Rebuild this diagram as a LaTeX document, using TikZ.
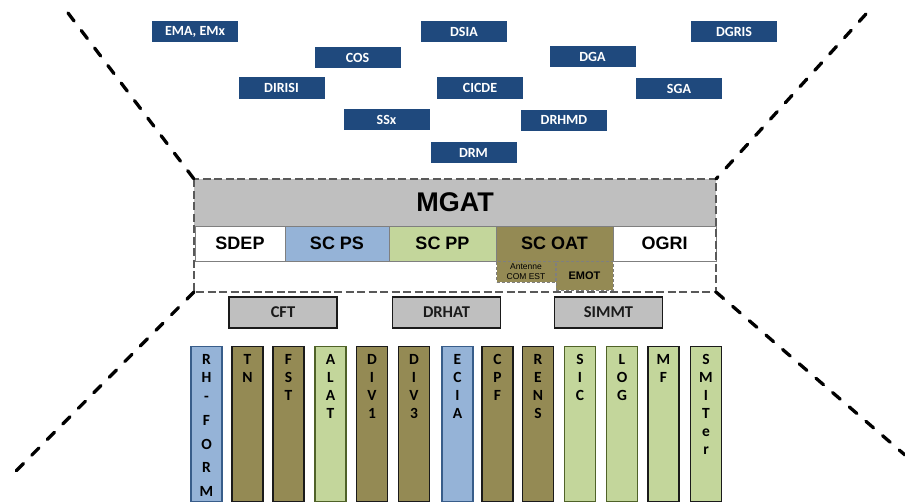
\documentclass[tikz,border=0pt]{standalone}
\usepackage{fontspec}
\setmainfont{Carlito}
\newfontfamily\arialf{Liberation Sans}
\definecolor{navy}{HTML}{1F497D}
\definecolor{lblue}{HTML}{95B3D7}
\definecolor{bblue}{HTML}{385D8A}
\definecolor{olivef}{HTML}{948A54}
\definecolor{lgreen}{HTML}{C3D69B}
\definecolor{dgreen}{HTML}{4F6228}
\definecolor{mgrey}{HTML}{BFBFBF}
\definecolor{frameg}{HTML}{595959}
\definecolor{cellb}{HTML}{7F7F7F}
\definecolor{dk}{HTML}{1A1A1A}
\begin{document}
\begin{tikzpicture}[x=1pt,y=-1pt,
  topbox/.style={fill=navy,text=white,font=\bfseries\fontsize{14}{14}\selectfont,
    minimum width=86pt,minimum height=21pt,inner sep=0pt},
  cell/.style={draw=cellb,line width=1pt,minimum height=35pt,inner sep=0pt,
    font=\arialf\bfseries\fontsize{18}{18}\selectfont},
  subcell/.style={draw=cellb,densely dashed,line width=0.8pt,fill=olivef,inner sep=0pt},
  midbox/.style={fill=mgrey,draw=dk,line width=1.5pt,minimum width=108pt,
    minimum height=31pt,inner sep=0pt,font=\bfseries\fontsize{16.5}{16.5}\selectfont,text=dk},
  colbox/.style={minimum width=31pt,minimum height=155pt,inner sep=0pt,
    line width=1.4pt,anchor=north},
  coltext/.style={anchor=north,inner sep=0pt,align=center,
    font=\bfseries\fontsize{15.5}{18}\selectfont},
  bigdash/.style={line width=3.3pt,line cap=round,dash pattern=on 10pt off 12pt},
  framedash/.style={draw=frameg,line width=2.8pt,dash pattern=on 8pt off 3.5pt}
]
\useasboundingbox (0,0) rectangle (905,503);

% top boxes
\node[topbox] (ema)   at (195,32)    {EMA, EMx};
\node[topbox] (dsia)  at (464,32)    {DSIA};
\node[topbox] (dgris) at (734,32)    {DGRIS};
\node[topbox] (cos)   at (357.5,57.5){COS};
\node[topbox] (dga)   at (592.5,57)  {DGA};
\node[topbox] (dirisi)at (281.5,88)  {DIRISI};
\node[topbox] (cicde) at (480,88)    {CICDE};
\node[topbox] (sga)   at (679,88.5)  {SGA};
\node[topbox] (ssx)   at (386.5,119.5){SSx};
\node[topbox] (drhmd) at (564,120)   {DRHMD};
\node[topbox] (drm)   at (473.5,152.5){DRM};

% MGAT frame
\coordinate (ftl) at (194,179);
\coordinate (ftr) at (716,179);
\coordinate (fbl) at (194,292);
\coordinate (fbr) at (716,292);
\fill[mgrey] (ftl) rectangle (716,226);
\node[font=\arialf\bfseries\fontsize{27}{27}\selectfont,inner sep=0pt] (mgat) at (455,202) {MGAT};

\node[cell,fill=white,minimum width=90pt]  (sdep)  at (240,243.5)  {SDEP};
\node[cell,fill=lblue,minimum width=104pt] (scps)  at (337,243.5)  {SC PS};
\node[cell,fill=lgreen,minimum width=107pt](scpp)  at (442.5,243.5){SC PP};
\node[cell,fill=olivef,minimum width=117pt](scoat) at (554.5,243.5){SC OAT};
\node[cell,fill=white,minimum width=103pt] (ogri)  at (664.5,243.5){OGRI};

\node[subcell,minimum width=59pt,minimum height=21pt,align=center,
  font=\arialf\fontsize{8.5}{9.5}\selectfont] (antenne) at (526,271.5) {Antenne\\COM EST};
\node[subcell,minimum width=57pt,minimum height=29pt,
  font=\arialf\bfseries\fontsize{11}{11}\selectfont] (emot) at (584.5,275.5) {EMOT};

\draw[framedash] (ftl) rectangle (fbr);

% dashed diagonals
\coordinate (tlend) at (68,13);
\coordinate (trend) at (866,14);
\coordinate (blend) at (13,474);
\coordinate (brend) at (905,455);
\draw[bigdash] (tlend) -- (ftl);
\draw[bigdash] (trend) -- (ftr);
\draw[bigdash] (fbl) -- (blend);
\draw[bigdash] (fbr) -- (brend);

% middle boxes
\node[midbox] (cft)   at (283,312.5)   {CFT};
\node[midbox] (drhat) at (446.5,312.5) {DRHAT};
\node[midbox] (simmt) at (608.5,312.5) {SIMMT};

% columns
\node[colbox,fill=lblue,draw=bblue] (rh) at (206.5,346) {};
\node[coltext] at (206.5,354) {R\\H\\[1.5pt]-\\[5.5pt]F\\[6pt]O\\[5pt]R\\[6pt]M};

\node[colbox,fill=olivef,draw=dk] (tn) at (247.5,346) {};
\node[coltext] at (tn.north) [yshift=-8pt] {T\\N};

\node[colbox,fill=olivef,draw=dk] (fst) at (288.5,346) {};
\node[coltext] at (fst.north) [yshift=-8pt] {F\\S\\T};

\node[colbox,fill=lgreen,draw=dgreen] (alat) at (330.5,346) {};
\node[coltext] at (alat.north) [yshift=-8pt] {A\\L\\A\\T};

\node[colbox,fill=olivef,draw=dk] (div1) at (372,346) {};
\node[coltext] at (div1.north) [yshift=-8pt] {D\\I\\V\\1};

\node[colbox,fill=olivef,draw=dk] (div3) at (414,346) {};
\node[coltext] at (div3.north) [yshift=-8pt] {D\\I\\V\\3};

\node[colbox,fill=lblue,draw=bblue] (ecia) at (457.5,346) {};
\node[coltext] at (ecia.north) [yshift=-8pt] {E\\C\\I\\A};

\node[colbox,fill=olivef,draw=dk] (cpf) at (497.5,346) {};
\node[coltext] at (cpf.north) [yshift=-8pt] {C\\P\\F};

\node[colbox,fill=olivef,draw=dk] (rens) at (538,346) {};
\node[coltext] at (rens.north) [yshift=-8pt] {R\\E\\N\\S};

\node[colbox,fill=lgreen,draw=dgreen] (sic) at (580,346) {};
\node[coltext] at (sic.north) [yshift=-8pt] {S\\I\\C};

\node[colbox,fill=lgreen,draw=dgreen] (log) at (622,346) {};
\node[coltext] at (log.north) [yshift=-8pt] {L\\O\\G};

\node[colbox,fill=lgreen,draw=dk] (mf) at (663.5,346) {};
\node[coltext] at (mf.north) [yshift=-8pt] {M\\F};

\node[colbox,fill=lgreen,draw=dk] (smiter) at (706,346) {};
\node[coltext] at (smiter.north) [yshift=-8pt] {S\\M\\I\\T\\e\\r};
\end{tikzpicture}
\end{document}
